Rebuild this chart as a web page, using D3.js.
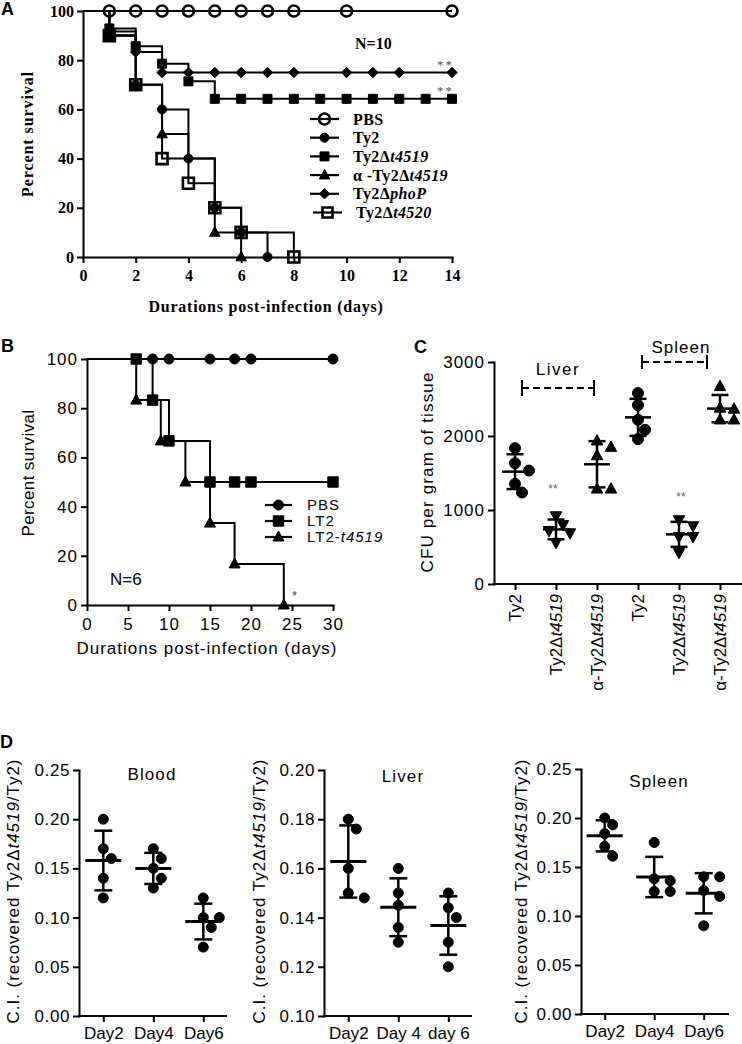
<!DOCTYPE html>
<html><head><meta charset="utf-8">
<script src="https://cdnjs.cloudflare.com/ajax/libs/d3/7.8.5/d3.min.js"></script>
<style>html,body{margin:0;padding:0;background:#fff}svg{display:block}</style>
</head><body>
<svg id="fig" width="742" height="1044" xmlns="http://www.w3.org/2000/svg"></svg>
<script>
// ================= DATA =================
// Panel A (Kaplan-Meier, percent survival vs days)
const aXTicks = [0, 2, 4, 6, 8, 10, 12, 14];
const aYTicks = [0, 20, 40, 60, 80, 100];
const aLegendLabels = [
  [["PBS", 0]],
  [["Ty2", 0]],
  [["Ty2\u0394", 0], ["t4519", 1]],
  [["\u03b1 -Ty2\u0394", 0], ["t4519", 1]],
  [["Ty2\u0394", 0], ["phoP", 1]],
  [["Ty2\u0394", 0], ["t4520", 1]]
];
const aPBSSteps = [[0, 100], [14, 100]];
const aPBSMarks = [[1, 100], [2, 100], [3, 100], [4, 100], [5, 100], [6, 100], [7, 100], [8, 100], [10, 100], [14, 100]];
const aTy2Steps = [[0, 100], [1, 90], [2, 70], [3, 60], [4, 40], [5, 20], [6, 10], [7, 0]];
const aTy2Marks = [[1, 90], [2, 70], [3, 60], [4, 40], [5, 20], [6, 10], [7, 0]];
const aT4519Steps = [[0, 100], [1, 92.9], [2, 85.7], [3, 78.6], [4, 71.4], [5, 64.3], [14, 64.3]];
const aT4519Marks = [[1, 92.9], [2, 85.7], [3, 78.6], [4, 71.4], [5, 64.3], [6, 64.3], [7, 64.3], [8, 64.3], [9, 64.3], [10, 64.3], [11, 64.3], [12, 64.3], [13, 64.3], [14, 64.3]];
const aAlphaSteps = [[0, 100], [1, 90], [2, 70], [3, 50], [4, 40], [5, 10], [6, 0]];
const aAlphaMarks = [[1, 90], [2, 70], [3, 50], [5, 10], [6, 0]];
const aPhoPSteps = [[0, 100], [1, 91.7], [2, 83.3], [3, 75], [14, 75]];
const aPhoPMarks = [[2, 83.3], [3, 75], [4, 75], [5, 75], [6, 75], [7, 75], [8, 75], [10, 75], [11, 75], [12, 75], [14, 75]];
const aT4520Steps = [[0, 100], [1, 90], [2, 70], [3, 40], [4, 30], [5, 20], [6, 10], [8, 0]];
const aT4520Marks = [[1, 90], [2, 70], [3, 40], [4, 30], [5, 20], [6, 10], [8, 0]];

// Panel B
const bXTicks = [0, 5, 10, 15, 20, 25, 30];
const bYTicks = [0, 20, 40, 60, 80, 100];
const bLegendLabels = [[["PBS", 0]], [["LT2", 0]], [["LT2-", 0], ["t4519", 1]]];
const bPBSSteps = [[0, 100], [30, 100]];
const bPBSMarks = [[8, 100], [10, 100], [15, 100], [18, 100], [20, 100], [30, 100]];
const bLT2Steps = [[0, 100], [8, 83.3], [10, 66.7], [15, 50], [30, 50]];
const bLT2Marks = [[6, 100], [8, 83.3], [10, 66.7], [15, 50], [18, 50], [20, 50], [30, 50]];
const bT4519Steps = [[0, 100], [6, 83.3], [9, 66.7], [12, 50], [15, 33.3], [18, 16.7], [24, 0]];
const bT4519Marks = [[6, 83.3], [9, 66.7], [12, 50], [15, 33.3], [18, 16.7], [24, 0]];

// Panel C (CFU per gram of tissue)
const cYTicks = [0, 1000, 2000, 3000];
const cLabels = [
  [["Ty2", 0]], [["Ty2\u0394", 0], ["t4519", 1]], [["\u03b1-Ty2\u0394", 0], ["t4519", 1]],
  [["Ty2", 0]], [["Ty2\u0394", 0], ["t4519", 1]], [["\u03b1-Ty2\u0394", 0], ["t4519", 1]]
];
const cLiverTy2 = [1836, 1633, 1533, 1353, 1236];
const cLiverT4519 = [920, 800, 720, 690, 560];
const cLiverAlpha = [1935, 1849, 1736, 1285, 1285];
const cSpleenTy2 = [2580, 2418, 2219, 2084, 1958];
const cSpleenT4519 = [866, 785, 640, 640, 424];
const cSpleenAlpha = [2670, 2378, 2365, 2219, 2219];

// Panel D (competitive index)
const dDays = ["Day2", "Day4", "Day6"];
const dLiverDays = ["Day2", "Day 4", "day 6"];
const dTicks025 = [0, 0.05, 0.10, 0.15, 0.20, 0.25];
const dTicksLiver = [0.10, 0.12, 0.14, 0.16, 0.18, 0.20];
const dBlood = [[0.20, 0.17, 0.16, 0.14, 0.12], [0.17, 0.16, 0.15, 0.14, 0.13], [0.12, 0.10, 0.10, 0.09, 0.07]];
const dLiver = [[0.180, 0.176, 0.160, 0.150, 0.148], [0.160, 0.150, 0.145, 0.136, 0.130], [0.150, 0.144, 0.140, 0.130, 0.120]];
const dSpleen = [[0.200, 0.193, 0.184, 0.171, 0.161], [0.175, 0.138, 0.136, 0.125, 0.125], [0.140, 0.140, 0.126, 0.120, 0.090]];
const dYTitle = [["C.I. (recovered Ty2\u0394", 0], ["t4519", 1], ["/Ty2)", 0]];

// ================= HELPERS =================
const FS = "'Liberation Serif','Times New Roman',serif";
const FA = "'Liberation Sans',Arial,Helvetica,sans-serif";
const svg = d3.select("#fig");

function rich(t, segs) {
  segs.forEach(([s, it]) => t.append("tspan").text(s).attr("font-style", it ? "italic" : null));
  return t;
}
function fit(t, target) {
  const n = t.node();
  const len = n.getComputedTextLength();
  const chars = n.textContent.length;
  t.style("letter-spacing", ((target - len) / Math.max(1, chars)) + "px");
  return t;
}
function mark(g, type, x, y, s, filled, sw) {
  let el;
  if (type === "circle") {
    el = g.append("circle").attr("cx", x).attr("cy", y).attr("r", s);
  } else {
    let pts;
    if (type === "square") pts = [[-s, -s], [s, -s], [s, s], [-s, s]];
    else if (type === "triangle") pts = [[0, -1.2 * s], [1.1 * s, 0.8 * s], [-1.1 * s, 0.8 * s]];
    else if (type === "tridown") pts = [[0, 1.2 * s], [1.1 * s, -0.8 * s], [-1.1 * s, -0.8 * s]];
    else pts = [[0, -1.3 * s], [1.3 * s, 0], [0, 1.3 * s], [-1.3 * s, 0]];
    el = g.append("path").attr("d", "M" + pts.map(p => (x + p[0]) + "," + (y + p[1])).join("L") + "Z");
  }
  el.attr("fill", filled ? "#000" : "none").attr("stroke", "#000").attr("stroke-width", filled ? 1 : (sw || 2.5));
  return el;
}
function styleAxis(g, family, size, weight) {
  g.attr("font-family", family).attr("font-size", size).attr("font-weight", weight);
  g.select(".domain").attr("stroke", "#000").attr("stroke-width", 2).attr("stroke-linecap", "square");
  g.selectAll(".tick line").attr("stroke", "#000").attr("stroke-width", 2);
  g.selectAll(".tick text").attr("fill", "#000");
}
function dodge(py, h, minDist) {
  const idx = d3.range(py.length).sort((a, b) => py[a] - py[b]);
  const placed = [], off = new Array(py.length).fill(0);
  for (const i of idx) {
    for (const c of [0, h, -h, 2 * h, -2 * h, 3 * h, -3 * h]) {
      if (placed.every(p => Math.hypot(p.x - c, p.y - py[i]) >= minDist)) {
        off[i] = c; placed.push({x: c, y: py[i]}); break;
      }
    }
  }
  return off;
}
function columnScatter(g, cx, vals, y, shape, r, h, minDist, meanHalf, sdHalf, meanW) {
  const py = vals.map(v => y(v));
  const off = dodge(py, h, minDist);
  vals.forEach((v, i) => mark(g, shape, cx + off[i], py[i], r, true));
  const m = d3.mean(vals), sd = d3.deviation(vals);
  g.append("line").attr("x1", cx).attr("x2", cx).attr("y1", y(m + sd)).attr("y2", y(m - sd)).attr("stroke", "#000").attr("stroke-width", 2.5);
  [m + sd, m - sd].forEach(v => g.append("line").attr("x1", cx - sdHalf).attr("x2", cx + sdHalf).attr("y1", y(v)).attr("y2", y(v)).attr("stroke", "#000").attr("stroke-width", 2.5));
  g.append("line").attr("x1", cx - meanHalf).attr("x2", cx + meanHalf).attr("y1", y(m)).attr("y2", y(m)).attr("stroke", "#000").attr("stroke-width", meanW);
}
function panelLabel(txt, x, y) {
  svg.append("text").attr("x", x).attr("y", y).text(txt).attr("font-family", FA).attr("font-weight", "bold").attr("font-size", 18).attr("fill", "#000");
}

// ================= PANEL A =================
{
  const xA = d3.scaleLinear().domain([0, 14]).range([83, 452]);
  const yA = d3.scaleLinear().domain([0, 100]).range([257, 11]);
  const g = svg.append("g");
  const gy = g.append("g").attr("transform", "translate(83,0)")
    .call(d3.axisLeft(yA).tickValues(aYTicks).tickSize(6).tickPadding(3).tickSizeOuter(0));
  styleAxis(gy, FS, 16, "bold");
  const gx = g.append("g").attr("transform", "translate(0,257)")
    .call(d3.axisBottom(xA).tickValues(aXTicks).tickSize(6).tickPadding(7).tickSizeOuter(0));
  styleAxis(gx, FS, 16, "bold");

  const line = d3.line().x(d => xA(d[0])).y(d => yA(d[1])).curve(d3.curveStepAfter);
  const series = [
    {steps: aPBSSteps, marks: aPBSMarks, type: "circle", filled: false, s: 5.5},
    {steps: aT4520Steps, marks: aT4520Marks, type: "square", filled: false, s: 5.5},
    {steps: aT4519Steps, marks: aT4519Marks, type: "square", filled: true, s: 4.5},
    {steps: aPhoPSteps, marks: aPhoPMarks, type: "diamond", filled: true, s: 4},
    {steps: aAlphaSteps, marks: aAlphaMarks, type: "triangle", filled: true, s: 4.8},
    {steps: aTy2Steps, marks: aTy2Marks, type: "circle", filled: true, s: 4.5}
  ];
  series.forEach(sr => g.append("path").datum(sr.steps).attr("d", line).attr("fill", "none").attr("stroke", "#000").attr("stroke-width", 2));
  series.forEach(sr => sr.marks.forEach(d => mark(g, sr.type, xA(d[0]), yA(d[1]), sr.s, sr.filled, 2.6)));

  // legend
  const legType = [["circle", false, 5.5], ["circle", true, 4.5], ["square", true, 4.5], ["triangle", true, 4.8], ["diamond", true, 4], ["square", false, 5]];
  aLegendLabels.forEach((lab, i) => {
    const yy = 119 + i * 18.7;
    const dx = i === 5 ? 3 : 0;
    g.append("line").attr("x1", 310 + dx).attr("x2", 339 + dx).attr("y1", yy).attr("y2", yy).attr("stroke", "#000").attr("stroke-width", 2.2);
    mark(g, legType[i][0], 324.5 + dx, yy, legType[i][2], legType[i][1], 2.6);
    const t = g.append("text").attr("x", 353 + dx).attr("y", yy).attr("dy", "0.35em")
      .attr("font-family", FS).attr("font-weight", "bold").attr("font-size", 16).attr("fill", "#000")
      .style("letter-spacing", "0.4px");
    rich(t, lab);
  });
  g.append("text").attr("x", 355).attr("y", 49).text("N=10").attr("font-family", FS).attr("font-weight", "bold").attr("font-size", 16).attr("fill", "#000");
  g.append("text").attr("x", 454).attr("y", 69).attr("text-anchor", "end").text("**").attr("font-family", FS).attr("font-size", 13).attr("fill", "#555").style("letter-spacing", "2px");
  g.append("text").attr("x", 454).attr("y", 95).attr("text-anchor", "end").text("**").attr("font-family", FS).attr("font-size", 13).attr("fill", "#555").style("letter-spacing", "2px");

  const yt = g.append("text").attr("transform", "translate(27,134) rotate(-90)").attr("text-anchor", "middle").attr("dy", "0.35em")
    .text("Percent survival").attr("font-family", FS).attr("font-weight", "bold").attr("font-size", 16).attr("fill", "#000");
  fit(yt, 126);
  const xt = g.append("text").attr("x", 266).attr("y", 312).attr("text-anchor", "middle")
    .text("Durations post-infection (days)").attr("font-family", FS).attr("font-weight", "bold").attr("font-size", 16).attr("fill", "#000");
  fit(xt, 235);
  panelLabel("A", 1, 15);
}

// ================= PANEL B =================
{
  const xB = d3.scaleLinear().domain([0, 30]).range([87, 333]);
  const yB = d3.scaleLinear().domain([0, 100]).range([605, 359]);
  const g = svg.append("g");
  const gy = g.append("g").attr("transform", "translate(87,0)")
    .call(d3.axisLeft(yB).tickValues(bYTicks).tickSize(6).tickPadding(3).tickSizeOuter(0));
  styleAxis(gy, FA, 17, "normal");
  const gx = g.append("g").attr("transform", "translate(0,605)")
    .call(d3.axisBottom(xB).tickValues(bXTicks).tickSize(6).tickPadding(7).tickSizeOuter(0));
  styleAxis(gx, FA, 17, "normal");
  gx.selectAll(".tick text").style("letter-spacing", "1px");
  gy.selectAll(".tick text").style("letter-spacing", "1px");

  const line = d3.line().x(d => xB(d[0])).y(d => yB(d[1])).curve(d3.curveStepAfter);
  const series = [
    {steps: bPBSSteps, marks: bPBSMarks, type: "circle", s: 5},
    {steps: bLT2Steps, marks: bLT2Marks, type: "square", s: 5.2},
    {steps: bT4519Steps, marks: bT4519Marks, type: "triangle", s: 5}
  ];
  series.forEach(sr => g.append("path").datum(sr.steps).attr("d", line).attr("fill", "none").attr("stroke", "#000").attr("stroke-width", 2));
  series.forEach(sr => sr.marks.forEach(d => mark(g, sr.type, xB(d[0]), yB(d[1]), sr.s, true)));

  bLegendLabels.forEach((lab, i) => {
    const yy = 505 + i * 16;
    g.append("line").attr("x1", 265).attr("x2", 292).attr("y1", yy).attr("y2", yy).attr("stroke", "#000").attr("stroke-width", 2.2);
    mark(g, series[i].type, 278.5, yy, series[i].s, true);
    const t = g.append("text").attr("x", 307).attr("y", yy).attr("dy", "0.36em")
      .attr("font-family", FA).attr("font-size", 15).attr("fill", "#000").style("letter-spacing", "1px");
    rich(t, lab);
  });
  g.append("text").attr("x", 110).attr("y", 585).text("N=6").attr("font-family", FA).attr("font-size", 17).attr("fill", "#000");
  g.append("text").attr("x", 292).attr("y", 600).text("*").attr("font-family", FA).attr("font-size", 13).attr("fill", "#444");

  const yt = g.append("text").attr("transform", "translate(28,473) rotate(-90)").attr("text-anchor", "middle").attr("dy", "0.35em")
    .text("Percent survival").attr("font-family", FA).attr("font-size", 17).attr("fill", "#000");
  fit(yt, 127);
  const xt = g.append("text").attr("x", 207).attr("y", 654).attr("text-anchor", "middle")
    .text("Durations post-infection (days)").attr("font-family", FA).attr("font-size", 17).attr("fill", "#000");
  fit(xt, 261);
  panelLabel("B", 1, 352);
}

// ================= PANEL C =================
{
  const xC = d3.scalePoint().domain(d3.range(6)).range([515, 720]);
  const yC = d3.scaleLinear().domain([0, 3000]).range([584, 362]);
  const g = svg.append("g");
  const gy = g.append("g").attr("transform", "translate(494,0)")
    .call(d3.axisLeft(yC).tickValues(cYTicks).tickFormat(d3.format("d")).tickSize(6).tickPadding(3).tickSizeOuter(0));
  styleAxis(gy, FA, 17, "normal");
  gy.selectAll(".tick text").style("letter-spacing", "1px");
  const gx = g.append("g").attr("transform", "translate(0,584)")
    .call(d3.axisBottom(xC).tickSize(6).tickFormat(() => "").tickSizeOuter(0));
  styleAxis(gx, FA, 17, "normal");
  gx.select(".domain").remove();
  g.append("line").attr("x1", 493).attr("x2", 742).attr("y1", 584).attr("y2", 584).attr("stroke", "#000").attr("stroke-width", 2);
  cLabels.forEach((lab, i) => {
    const t = g.append("text").attr("transform", `translate(${xC(i)},${584 + 10}) rotate(-90)`)
      .attr("text-anchor", "end").attr("dy", "0.35em").attr("font-family", FA).attr("font-size", 17).attr("fill", "#000");
    rich(t, lab);
  });

  const vals = [cLiverTy2, cLiverT4519, cLiverAlpha, cSpleenTy2, cSpleenT4519, cSpleenAlpha];
  const shapes = ["circle", "tridown", "triangle", "circle", "tridown", "triangle"];
  vals.forEach((v, i) => columnScatter(g, xC(i), v, yC, shapes[i], shapes[i] === "circle" ? 5.5 : 5.2, 7, 10.5, 13, 8.5, 2.5));

  // group brackets
  function bracket(x1, x2, y, h) {
    g.append("line").attr("x1", x1).attr("x2", x2).attr("y1", y).attr("y2", y).attr("stroke", "#000").attr("stroke-width", 2).attr("stroke-dasharray", "7,4");
    [x1, x2].forEach(x => g.append("line").attr("x1", x).attr("x2", x).attr("y1", y - h).attr("y2", y + h).attr("stroke", "#000").attr("stroke-width", 2));
  }
  bracket(xC(0) + 7, xC(2) - 3, 388, 8);
  bracket(xC(3) + 4, xC(5) - 13, 362, 7);
  g.append("text").attr("x", 558).attr("y", 375).attr("text-anchor", "middle").text("Liver").attr("font-family", FA).attr("font-size", 17).attr("fill", "#000").style("letter-spacing", "1.5px");
  g.append("text").attr("x", 681).attr("y", 353).attr("text-anchor", "middle").text("Spleen").attr("font-family", FA).attr("font-size", 17).attr("fill", "#000").style("letter-spacing", "1px");
  g.append("text").attr("x", xC(1) - 3).attr("y", 493).attr("text-anchor", "middle").text("**").attr("font-family", FA).attr("font-size", 12).attr("fill", "#666");
  g.append("text").attr("x", xC(4) + 2).attr("y", 501).attr("text-anchor", "middle").text("**").attr("font-family", FA).attr("font-size", 12).attr("fill", "#666");

  const yt = g.append("text").attr("transform", "translate(427,472) rotate(-90)").attr("text-anchor", "middle").attr("dy", "0.35em")
    .text("CFU per gram of tissue").attr("font-family", FA).attr("font-size", 17).attr("fill", "#000");
  fit(yt, 201);
  panelLabel("C", 414, 353);
}

// ================= PANEL D =================
function dPanel(axisX, axisEnd, xRange, yDomain, yRange, ticks, cats, data, title, titleX, titleY, ytX) {
  const g = svg.append("g");
  const x = d3.scalePoint().domain(cats).range(xRange);
  const y = d3.scaleLinear().domain(yDomain).range(yRange);
  const gy = g.append("g").attr("transform", `translate(${axisX},0)`)
    .call(d3.axisLeft(y).tickValues(ticks).tickFormat(d3.format(".2f")).tickSize(6).tickPadding(3).tickSizeOuter(0));
  styleAxis(gy, FA, 17, "normal");
  gy.selectAll(".tick text").style("letter-spacing", "0.6px");
  const gx = g.append("g").attr("transform", `translate(0,${yRange[0]})`)
    .call(d3.axisBottom(x).tickSize(6).tickPadding(5).tickSizeOuter(0));
  styleAxis(gx, FA, 17, "normal");
  gx.select(".domain").remove();
  g.append("line").attr("x1", axisX - 1).attr("x2", axisEnd).attr("y1", yRange[0]).attr("y2", yRange[0]).attr("stroke", "#000").attr("stroke-width", 2);
  data.forEach((v, i) => columnScatter(g, x(cats[i]), v, y, "circle", 5, 8, 10, 18, 9, 3));
  g.append("text").attr("x", titleX).attr("y", titleY).attr("text-anchor", "middle").text(title)
    .attr("font-family", FA).attr("font-size", 17).attr("fill", "#000").style("letter-spacing", "1.1px");
  const yt = g.append("text").attr("transform", `translate(${ytX},891) rotate(-90)`).attr("text-anchor", "middle").attr("dy", "0.35em")
    .attr("font-family", FA).attr("font-size", 17).attr("fill", "#000");
  rich(yt, dYTitle);
  fit(yt, 265);
}
dPanel(79, 227, [103.3, 203.3], [0, 0.25], [1016, 770], dTicks025, dDays, dBlood, "Blood", 152, 780, 13.5);
dPanel(324, 472, [348.3, 448.3], [0.10, 0.20], [1016, 770], dTicksLiver, dLiverDays, dLiver, "Liver", 403, 782, 259);
dPanel(581, 729, [604.7, 703.7], [0, 0.25], [1014, 769], dTicks025, dDays, dSpleen, "Spleen", 659, 787, 521);
panelLabel("D", 0, 748);
</script>
</body></html>
